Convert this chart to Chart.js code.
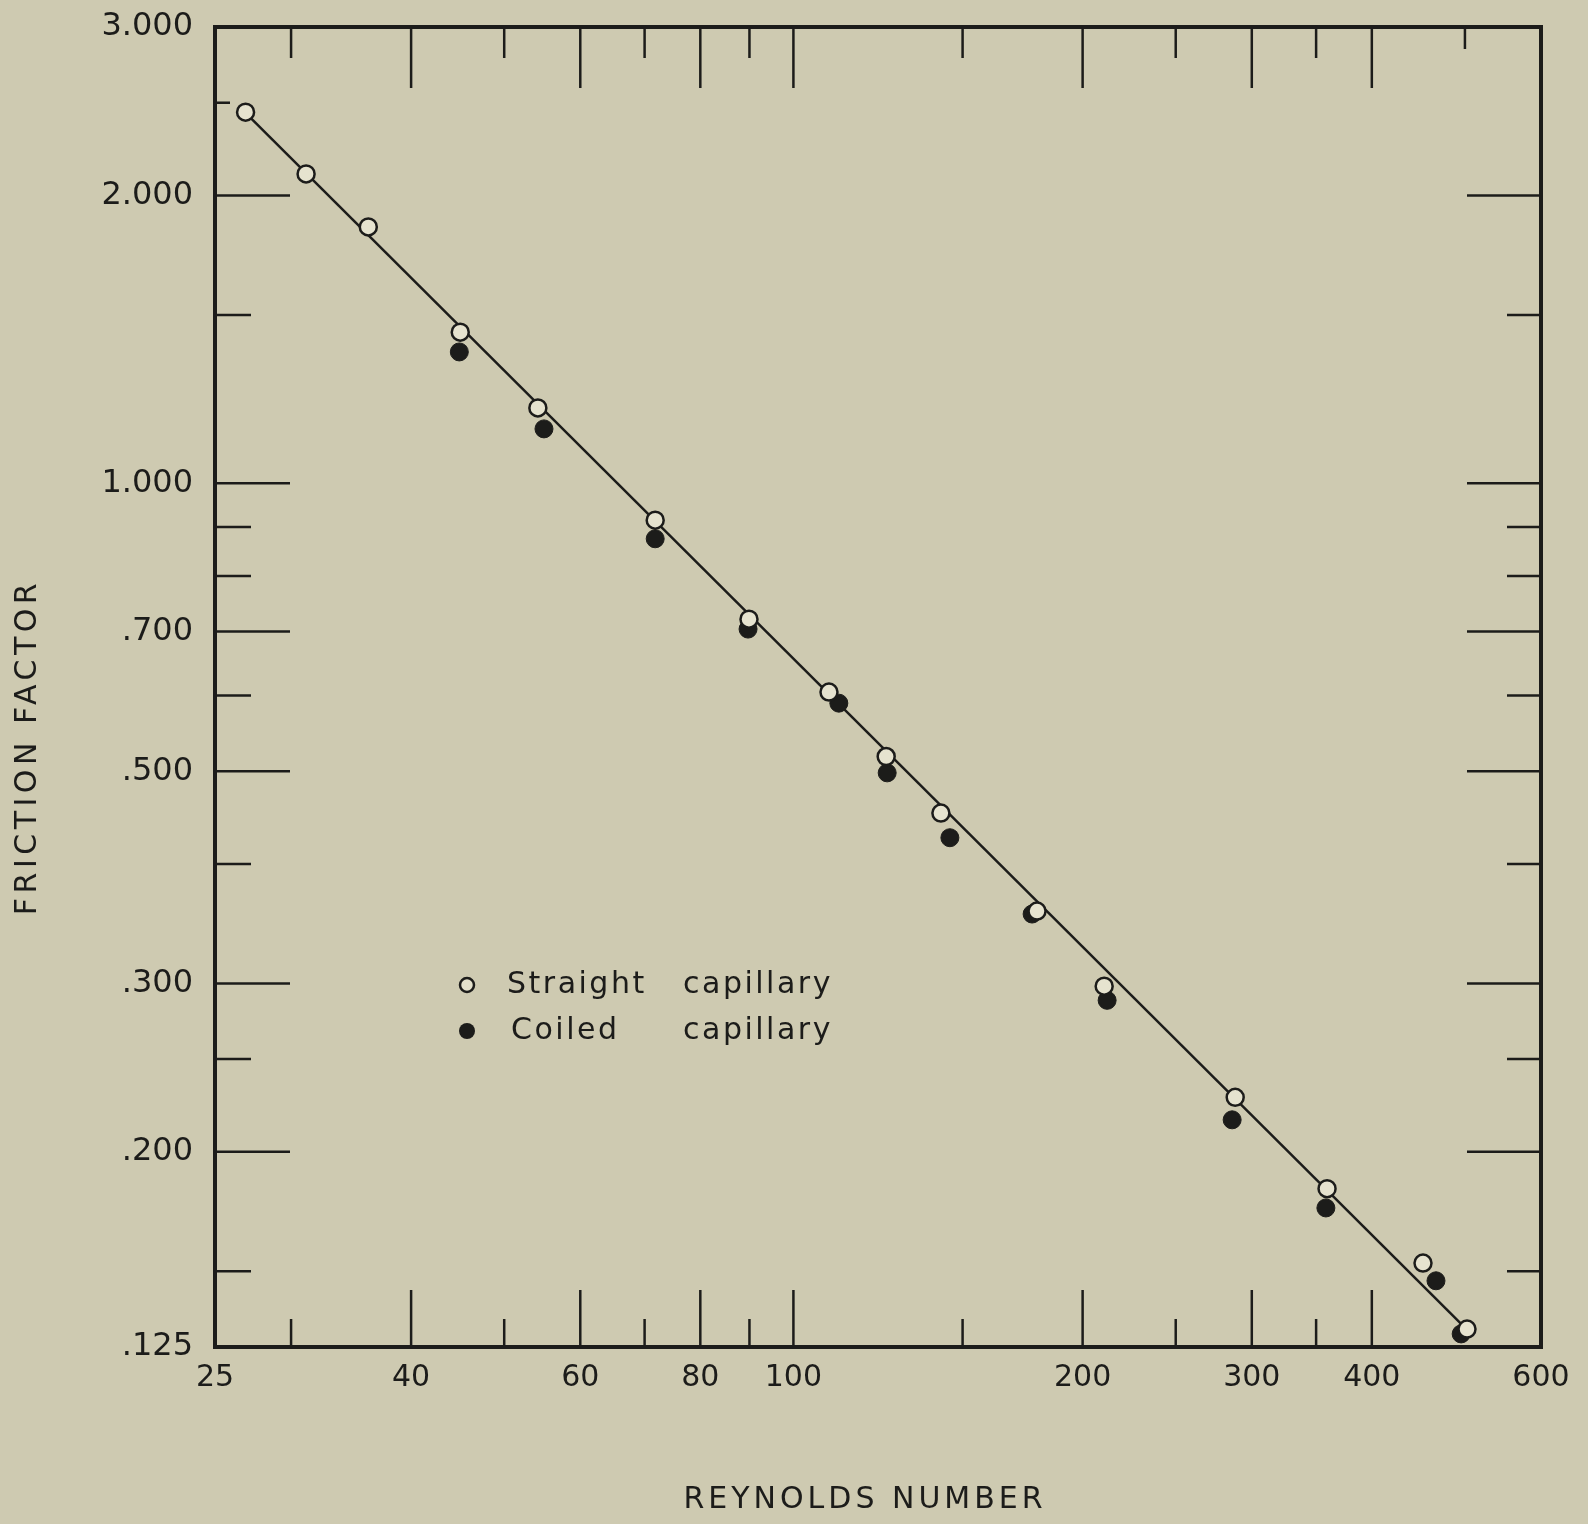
<!DOCTYPE html>
<html>
<head>
<meta charset="utf-8">
<title>Friction factor vs Reynolds number</title>
<script src="https://cdn.jsdelivr.net/npm/chart.js@4.4.1/dist/chart.umd.min.js"></script>
<style>
  html, body { margin: 0; padding: 0; background: #cecab1; }
  #wrap { width: 1588px; height: 1524px; }
</style>
</head>
<body>
<div id="wrap"><canvas id="myChart" width="1588" height="1524"></canvas></div>
<script>
'use strict';

// Data

let straightRe = [26.9, 31.1, 36.1, 45.0, 54.2, 71.8, 89.9, 108.9, 124.9, 142.4, 179.3, 210.6, 288.3, 359.3, 452.2, 502.5];
let straightF = [2.444, 2.106, 1.854, 1.439, 1.199, 0.915, 0.721, 0.605, 0.518, 0.452, 0.357, 0.298, 0.228, 0.183, 0.153, 0.1305];

let coiledRe = [44.9, 55.0, 71.8, 89.7, 111.5, 125.2, 145.5, 177.2, 212.1, 286.2, 358.3, 466.5, 495.5];
let coiledF = [1.372, 1.140, 0.875, 0.704, 0.589, 0.498, 0.426, 0.3545, 0.288, 0.216, 0.1747, 0.1466, 0.129];

// straight line drawn through the points
let lineRe = [26.9, 500];
let lineF = [2.44, 0.131];

// Axis labels and tick marks

let xLabels = [25, 40, 60, 80, 100, 200, 300, 400, 600];
let yLabels = [0.125, 0.2, 0.3, 0.5, 0.7, 1, 2, 3];
let yLabelText = ['.125', '.200', '.300', '.500', '.700', '1.000', '2.000', '3.000'];

let xLongTicks = [40, 60, 80, 100, 200, 300, 400];
let xShortTicks = [30, 50, 70, 90, 150, 250, 350];
let xTopOnlyTicks = [500];
let yLongTicks = [0.2, 0.3, 0.5, 0.7, 1, 2];
let yShortTicks = [0.15, 0.25, 0.4, 0.6, 0.8, 0.9, 1.5];
let yLeftOnlyTicks = [2.5];

let ink = '#1c1c1a';
let font = '"DejaVu Sans", sans-serif';

function toPoints(xs, ys){
  let pts = [];
  for (let i = 0; i < xs.length; i++) {
    pts.push({x: xs[i], y: ys[i]});
  }
  return pts;
}

// frame + tick marks on all four sides
const frameTicks = {
  id: 'frameTicks',
  beforeDatasetsDraw(chart){
    const ctx = chart.ctx;
    const a = chart.chartArea;
    const xs = chart.scales.x;
    const ys = chart.scales.y;
    ctx.save();
    ctx.strokeStyle = ink;
    ctx.lineCap = 'butt';

    ctx.lineWidth = 2.5;
    function vTick(v, len, top){
      let px = xs.getPixelForValue(v);
      ctx.beginPath();
      if (top) { ctx.moveTo(px, a.top); ctx.lineTo(px, a.top + len); }
      else { ctx.moveTo(px, a.bottom); ctx.lineTo(px, a.bottom - len); }
      ctx.stroke();
    }
    function hTick(v, len, left){
      let py = ys.getPixelForValue(v);
      ctx.beginPath();
      if (left) { ctx.moveTo(a.left, py); ctx.lineTo(a.left + len, py); }
      else { ctx.moveTo(a.right, py); ctx.lineTo(a.right - len, py); }
      ctx.stroke();
    }
    xLongTicks.forEach(v => { vTick(v, 61, true); vTick(v, 57, false); });
    xShortTicks.forEach(v => { vTick(v, 31, true); vTick(v, 28, false); });
    xTopOnlyTicks.forEach(v => vTick(v, 22, true));
    yLongTicks.forEach(v => { hTick(v, 75, true); hTick(v, 74, false); });
    yShortTicks.forEach(v => { hTick(v, 36, true); hTick(v, 34, false); });
    yLeftOnlyTicks.forEach(v => hTick(v, 15, true));

    ctx.lineWidth = 4;
    ctx.strokeRect(a.left, a.top, a.right - a.left, a.bottom - a.top);
    ctx.restore();
  },
  afterDraw(chart){
    const ctx = chart.ctx;
    ctx.save();
    ctx.fillStyle = ink;
    ctx.strokeStyle = ink;
    ctx.textBaseline = 'middle';

    // axis titles
    ctx.font = '30px ' + font;
    ctx.letterSpacing = '4px';
    ctx.textAlign = 'center';
    ctx.fillText('REYNOLDS NUMBER', 865, 1500);
    ctx.save();
    ctx.translate(28, 747);
    ctx.rotate(-Math.PI / 2);
    ctx.letterSpacing = '4.5px';
    ctx.fillText('FRICTION FACTOR', 0, 0);
    ctx.restore();

    // legend
    ctx.letterSpacing = '2.5px';
    ctx.textAlign = 'left';
    ctx.font = '30px ' + font;
    ctx.lineWidth = 2.5;
    ctx.fillStyle = '#e4e1cc';
    ctx.beginPath();
    ctx.arc(467, 985, 7, 0, Math.PI * 2);
    ctx.fill();
    ctx.stroke();
    ctx.fillStyle = ink;
    ctx.beginPath();
    ctx.arc(467, 1031, 8, 0, Math.PI * 2);
    ctx.fill();
    ctx.fillText('Straight', 507, 985);
    ctx.fillText('capillary', 683, 985);
    ctx.fillText('Coiled', 511, 1031);
    ctx.fillText('capillary', 683, 1031);
    ctx.restore();
  }
};

const data = {
  datasets: [{
    label: 'Straight capillary',
    data: toPoints(straightRe, straightF),
    pointStyle: 'circle',
    pointRadius: 8.5,
    pointBorderWidth: 2.5,
    pointBackgroundColor: '#e6e3cf',
    pointBorderColor: ink,
    showLine: false,
    clip: false
  }, {
    label: 'Coiled capillary',
    data: toPoints(coiledRe, coiledF),
    pointStyle: 'circle',
    pointRadius: 9,
    pointBorderWidth: 1,
    pointBackgroundColor: ink,
    pointBorderColor: ink,
    showLine: false,
    clip: false
  }, {
    label: 'fit',
    data: toPoints(lineRe, lineF),
    showLine: true,
    borderColor: ink,
    borderWidth: 2.5,
    pointRadius: 0,
    fill: false
  }]
};

const config = {
  type: 'scatter',
  data: data,
  options: {
    responsive: false,
    animation: false,
    devicePixelRatio: 1,
    layout: {
      padding: {top: 27, right: 47, left: 0, bottom: 0}
    },
    plugins: {
      legend: {display: false},
      tooltip: {enabled: false},
      title: {display: false}
    },
    scales: {
      x: {
        type: 'logarithmic',
        min: 25,
        max: 600,
        grid: {display: false},
        border: {display: false},
        afterBuildTicks(axis){
          axis.ticks = xLabels.map(v => ({value: v}));
        },
        afterFit(axis){
          axis.height = 177;
          axis.paddingLeft = 0;
          axis.paddingRight = 0;
        },
        ticks: {
          autoSkip: false,
          maxRotation: 0,
          padding: 5,
          color: ink,
          font: {family: font, size: 30},
          callback: (value, i) => String(xLabels[i])
        }
      },
      y: {
        type: 'logarithmic',
        min: 0.125,
        max: 3,
        grid: {display: false},
        border: {display: false},
        afterBuildTicks(axis){
          axis.ticks = yLabels.map(v => ({value: v}));
        },
        afterFit(axis){
          axis.width = 215;
          axis.paddingTop = 0;
          axis.paddingBottom = 0;
        },
        ticks: {
          autoSkip: false,
          padding: 14,
          color: ink,
          font: {family: font, size: 32},
          callback: (value, i) => yLabelText[i]
        }
      }
    }
  },
  plugins: [frameTicks]
};

const myChart = new Chart(document.getElementById('myChart'), config);
</script>
</body>
</html>
